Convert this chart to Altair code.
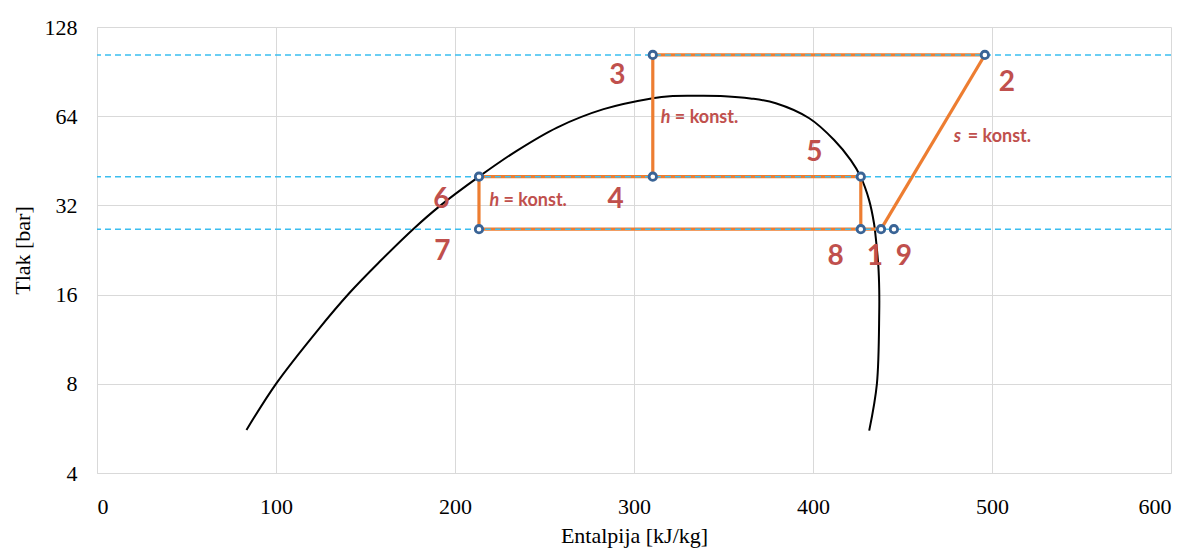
import altair as alt
import pandas as pd

# Saturation dome (enthalpy kJ/kg, pressure bar)
curve_h = [83.5, 100.2, 123.4, 141, 157.7, 177.2, 191.1, 213.4, 234.7, 257, 283, 310.5,
           320, 335, 350.6, 365, 379.2, 397.9, 411.8, 421.1, 426.6, 431.3, 434.1, 435, 436.5, 437,
           437, 435.7, 431.4]
curve_p = [5.59, 8.03, 12.15, 16.2, 20.6, 26.8, 31.7, 40, 49.0, 58.6, 67.6, 73.6,
           74.8, 75, 74.8, 73.5, 70.8, 63.0, 53.2, 45.5, 40, 33.4, 27.8, 25.1, 20.0, 16.6,
           13.9, 8.0, 5.56]

# Cycle state points
state_id = ["1", "2", "3", "4", "5", "6", "7", "8", "9"]
state_h = [438, 496, 310.5, 310.5, 426.7, 213.4, 213.4, 426.7, 445.2]
state_p = [26.6, 103, 103, 40, 40, 40, 26.6, 26.6, 26.6]

# Cycle segments (from state -> to state)
seg_from = ["3", "3", "6", "6", "7", "5", "1"]
seg_to = ["2", "4", "5", "7", "1", "8", "2"]

# Isobars (dashed)
iso_p = [103, 40, 26.6]

# State number labels
lab_text = ["3", "2", "5", "4", "6", "7", "8", "1", "9"]
lab_h = [290.7, 508.3, 400.7, 289.8, 192.4, 193, 412.7, 434.6, 450.7]
lab_p = [87.5, 82.6, 48.0, 33.5, 33.4, 22.3, 21.5, 21.5, 21.5]

# "= konst." annotations
k_sym = ["h", "h", "s"]
k_h = [315, 219.3, 478.6]
k_p = [63, 33.1, 54.6]

curve_df = pd.DataFrame({"i": range(len(curve_h)), "h": curve_h, "p": curve_p})
pts = dict(zip(state_id, zip(state_h, state_p)))
state_df = pd.DataFrame({"id": state_id, "h": state_h, "p": state_p})
seg_df = pd.DataFrame({
    "h": [pts[a][0] for a in seg_from], "p": [pts[a][1] for a in seg_from],
    "h2": [pts[b][0] for b in seg_to], "p2": [pts[b][1] for b in seg_to],
})
iso_df = pd.DataFrame({"p": iso_p})
lab_df = pd.DataFrame({"t": lab_text, "h": lab_h, "p": lab_p})
k_df = pd.DataFrame({"s": k_sym, "h": k_h, "p": k_p, "rest": ["= konst."] * 3})

X = alt.X("h:Q", scale=alt.Scale(domain=[0, 600], nice=False),
          axis=alt.Axis(values=[0, 100, 200, 300, 400, 500, 600], title="Entalpija [kJ/kg]",
                        labelPadding=23, titlePadding=8))
Y = alt.Y("p:Q", scale=alt.Scale(type="log", base=2, domain=[4, 128], nice=False),
          axis=alt.Axis(values=[4, 8, 16, 32, 64, 128], format="d", title="Tlak [bar]",
                        labelPadding=20, titlePadding=10))

curve = alt.Chart(curve_df).mark_line(color="black", strokeWidth=2, interpolate="catmull-rom").encode(
    x=X, y=Y, order="i:Q")

segs = alt.Chart(seg_df).mark_rule(color="#ED7D31", strokeWidth=3.2).encode(
    x=X, y=Y, x2="h2:Q", y2="p2:Q")

iso = alt.Chart(iso_df).mark_rule(color="#3BBEEF", strokeWidth=1.6, strokeDash=[6, 4]).encode(y=Y)

points = alt.Chart(state_df).mark_point(
    shape="circle", filled=True, fill="white", stroke="#3A6496", strokeWidth=2.8, size=55, opacity=1
).encode(x=X, y=Y)

labels = alt.Chart(lab_df).mark_text(
    font="Lato", fontWeight="bold", fontSize=28, color="#C0504D", align="center", baseline="middle"
).encode(x=X, y=Y, text="t:N")

ksym = alt.Chart(k_df).mark_text(
    font="Lato", fontWeight="bold", fontStyle="italic", fontSize=18, color="#C0504D",
    align="left", baseline="middle"
).encode(x=X, y=Y, text="s:N")

krest = alt.Chart(k_df).mark_text(
    font="Lato", fontWeight="bold", fontSize=18, color="#C0504D",
    align="left", baseline="middle", dx=14
).encode(x=X, y=Y, text="rest:N")

chart = alt.layer(curve, segs, iso, points, labels, ksym, krest).properties(
    width=1074, height=446,
    autosize=alt.AutoSizeParams(type="none"),
    padding={"left": 89, "top": 19, "right": 17, "bottom": 76},
).configure_view(stroke=None).configure_axis(
    grid=True, gridColor="#D9D9D9", gridWidth=1, domainColor="#D9D9D9", ticks=False,
    labelFont="Liberation Serif", labelFontSize=22, labelColor="black",
    titleFont="Liberation Serif", titleFontSize=22, titleFontWeight="normal", titleColor="black",
)

chart.save("out.html", embed_options={"renderer": "svg", "actions": False})
